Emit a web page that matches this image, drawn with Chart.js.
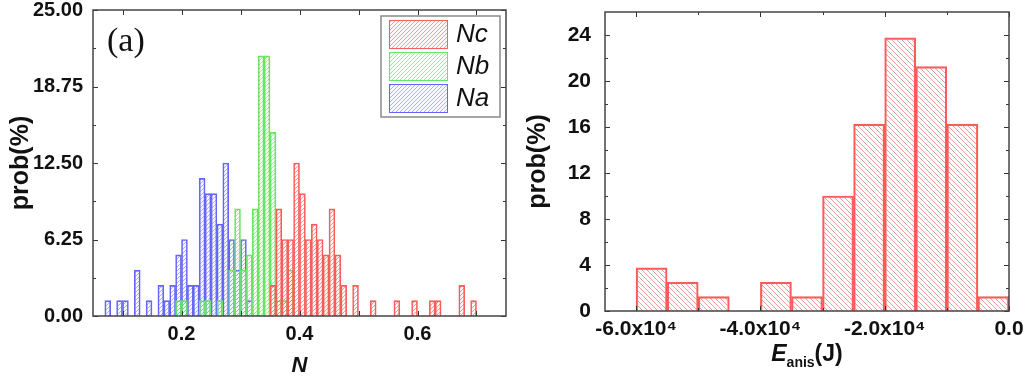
<!DOCTYPE html>
<html><head><meta charset="utf-8">
<script src="https://cdn.jsdelivr.net/npm/chart.js@4.4.1/dist/chart.umd.min.js"></script>
<style>
html,body{margin:0;padding:0;background:#fff;}
#wrap{position:relative;width:1024px;height:377px;overflow:hidden;}
.box{position:absolute;top:0;width:512px;height:377px;}
</style></head><body>
<div id="wrap">
<div class="box" style="left:0"><canvas id="c1" width="512" height="377"></canvas></div>
<div class="box" style="left:512px"><canvas id="c2" width="512" height="377"></canvas></div>
</div>
<script>
// ---------- Panel (a): histograms of N (bin width 0.01, values in %) ----------
const ncBins = [0.355,0.365,0.375,0.385,0.395,0.405,0.415,0.425,0.435,0.445,0.455,0.465,0.475,0.495,0.525,0.565,0.595,0.625,0.635,0.675,0.695];
const ncProb = [2.5,8.75,6.25,6.25,12.5,10,6.25,7.5,6.25,5,8.75,5,2.5,2.5,1.25,1.25,1.25,1.25,1.25,2.5,1.25];

const nbBins = [0.195,0.205,0.235,0.245,0.265,0.285,0.295,0.305,0.315,0.325,0.335,0.345,0.355,0.365,0.375,0.385];
const nbProb = [1.25,1.25,1.25,1.25,1.25,3.75,8.75,3.75,5,8.75,21.25,21.25,15,1.25,1.25,3.75];

const naBins = [0.075,0.095,0.105,0.125,0.145,0.165,0.175,0.185,0.195,0.205,0.215,0.225,0.235,0.245,0.255,0.265,0.275,0.285,0.295,0.305,0.315];
const naProb = [1.25,1.25,1.25,3.75,1.25,2.5,1.25,2.5,5,6.25,2.5,2.5,11.25,10,10,7.5,12.5,6.25,3.75,6.25,1.25];

const seriesLabels = ['Nc','Nb','Na'];

const leftXTicks  = [0.1,0.2,0.3,0.4,0.5,0.6,0.7];
const leftXLabels = ['','0.2','','0.4','','0.6',''];
const leftYTicks  = [0,6.25,12.5,18.75,25];
const leftYLabels = ['0.00','6.25','12.50','18.75','25.00'];
const leftYMinor  = [3.125,9.375,15.625,21.875];

// ---------- Panel (b): histogram of E_anis (bin width 5000 J, values in %) ----------
const eBins = [-57500,-52500,-47500,-37500,-32500,-27500,-22500,-17500,-12500,-7500,-2500];
const eProb = [3.75,2.5,1.25,2.5,1.25,10,16.25,23.75,21.25,16.25,1.25];

const rightXTicks  = [-60000,-40000,-20000,0];
const rightXLabels = ['-6.0x10\u2074','-4.0x10\u2074','-2.0x10\u2074','0.0'];
const rightXMinor  = [-50000,-30000,-10000];
const rightYTicks  = [0,4,8,12,16,20,24];
const rightYLabels = ['0','4','8','12','16','20','24'];
const rightYMinor  = [2,6,10,14,18,22];

const FONT = "'Liberation Sans', Arial, Helvetica, sans-serif";

function hatch(ctx, line, fill, dir, s, lw) {
  const c = document.createElement('canvas'); c.width = s; c.height = s;
  const g = c.getContext('2d');
  if (fill) { g.fillStyle = fill; g.fillRect(0, 0, s, s); }
  g.strokeStyle = line; g.lineWidth = lw || 1;
  g.beginPath();
  if (dir === '/') {
    g.moveTo(-1, s + 1); g.lineTo(s + 1, -1);
    g.moveTo(-1, 1); g.lineTo(1, -1);
    g.moveTo(s - 1, s + 1); g.lineTo(s + 1, s - 1);
  } else {
    g.moveTo(-1, -1); g.lineTo(s + 1, s + 1);
    g.moveTo(-1, s - 1); g.lineTo(1, s + 1);
    g.moveTo(s - 1, -1); g.lineTo(s + 1, 1);
  }
  g.stroke();
  return ctx.createPattern(c, 'repeat');
}

function framePlugin(cfg) {
  return {
    id: 'frame',
    afterDatasetsDraw(chart) {
      const {ctx, chartArea: a} = chart;
      const xs = chart.scales.x, ys = chart.scales.y;
      ctx.save();
      ctx.strokeStyle = '#333';
      ctx.lineWidth = 1;
      ctx.beginPath();
      const vx = (vals, len) => vals.forEach(v => {
        const p = Math.round(xs.getPixelForValue(v)) + 0.5;
        ctx.moveTo(p, a.bottom); ctx.lineTo(p, a.bottom - len);
        ctx.moveTo(p, a.top); ctx.lineTo(p, a.top + len);
      });
      const vy = (vals, len) => vals.forEach(v => {
        const p = Math.round(ys.getPixelForValue(v)) + 0.5;
        ctx.moveTo(a.left, p); ctx.lineTo(a.left + len, p);
        ctx.moveTo(a.right, p); ctx.lineTo(a.right - len, p);
      });
      vx(cfg.xMajor, 5); vx(cfg.xMinor, 3);
      vy(cfg.yMajor, 5); vy(cfg.yMinor, 3);
      ctx.stroke();
      ctx.lineWidth = 1.5;
      ctx.strokeStyle = '#444';
      ctx.strokeRect(a.left, a.top, a.right - a.left, a.bottom - a.top);
      ctx.restore();
    }
  };
}

// ---------------- Left chart ----------------
const c1 = document.getElementById('c1');
const g1 = c1.getContext('2d');
const styles1 = [
  {bg: hatch(g1, 'rgba(255,90,90,0.6)', 'rgba(255,0,0,0.03)', '/', 4), border: '#ff5c5c'},
  {bg: hatch(g1, 'rgba(80,225,80,0.55)', 'rgba(0,255,0,0.03)', '/', 4), border: '#66e866'},
  {bg: hatch(g1, 'rgba(105,105,255,0.5)', 'rgba(0,0,255,0.03)', '/', 4), border: '#6666ff'}
];
const binsList = [ncBins, nbBins, naBins];
const probList = [ncProb, nbProb, naProb];

const legendPlugin = {
  id: 'legendBox',
  afterDraw(chart) {
    const {ctx, chartArea: a} = chart;
    ctx.save();
    const bx = a.right - 125, by = a.top + 6, bw = 119, bh = 101;
    ctx.fillStyle = '#fff';
    ctx.fillRect(bx, by, bw, bh);
    ctx.strokeStyle = '#8a8a8a'; ctx.lineWidth = 1.5;
    ctx.strokeRect(bx, by, bw, bh);
    chart.data.datasets.forEach((ds, i) => {
      const ry = by + 4 + i * 32;
      ctx.fillStyle = ds.backgroundColor;
      ctx.fillRect(bx + 8, ry, 59, 29);
      ctx.strokeStyle = ds.borderColor; ctx.lineWidth = 1;
      ctx.strokeRect(bx + 8.5, ry + 0.5, 58, 28);
      ctx.fillStyle = '#111';
      ctx.font = "italic 26px " + FONT;
      ctx.textBaseline = 'middle';
      ctx.textAlign = 'left';
      ctx.fillText(ds.label, bx + 75, ry + 15);
    });
    // panel label
    ctx.font = "34px 'Liberation Serif', 'Times New Roman', serif";
    ctx.fillStyle = '#111';
    ctx.textBaseline = 'alphabetic';
    ctx.fillText('(a)', a.left + 14, a.top + 41);
    ctx.restore();
  }
};

new Chart(c1, {
  type: 'bar',
  data: {
    datasets: seriesLabels.map((lab, k) => ({
      label: lab,
      data: binsList[k].map((x, i) => ({x: x, y: probList[k][i]})),
      backgroundColor: styles1[k].bg,
      borderColor: styles1[k].border,
      borderWidth: 1,
      grouped: false,
      barPercentage: 1,
      categoryPercentage: 1
    }))
  },
  options: {
    responsive: false, animation: false, devicePixelRatio: 1,
    layout: {padding: {top: 10, right: 6, left: 0, bottom: 0}},
    plugins: {legend: {display: false}, tooltip: {enabled: false}},
    scales: {
      x: {
        type: 'linear', min: 0.05, max: 0.75, offset: false,
        grid: {display: false, drawTicks: false}, border: {display: false},
        afterBuildTicks: s => { s.ticks = leftXTicks.map(v => ({value: v})); },
        ticks: {autoSkip: false, maxRotation: 0, padding: 6, color: '#111',
          font: {family: FONT, size: 20, weight: 'bold'},
          callback: (v, i) => leftXLabels[i]},
        title: {display: true, text: 'N', color: '#111',
          font: {family: FONT, size: 22, weight: 'bold', style: 'italic', lineHeight: 1},
          padding: {top: 0, bottom: 0}},
        afterFit: s => { s.height = 61; s.paddingLeft = 0; s.paddingRight = 0; }
      },
      y: {
        min: 0, max: 25,
        grid: {display: false, drawTicks: false}, border: {display: false},
        afterBuildTicks: s => { s.ticks = leftYTicks.map(v => ({value: v})); },
        ticks: {autoSkip: false, padding: 10, color: '#111',
          font: {family: FONT, size: 20, weight: 'bold'},
          callback: (v, i) => leftYLabels[i]},
        title: {display: true, text: 'prob(%)', color: '#111',
          font: {family: FONT, size: 25, weight: 'bold', lineHeight: 1},
          padding: {top: 9, bottom: 0}},
        afterFit: s => { s.width = 93; s.paddingTop = 0; s.paddingBottom = 0; }
      }
    }
  },
  plugins: [framePlugin({xMajor: leftXTicks, xMinor: [], yMajor: leftYTicks, yMinor: leftYMinor}), legendPlugin]
});

// ---------------- Right chart ----------------
const c2 = document.getElementById('c2');
const g2 = c2.getContext('2d');

const eTitlePlugin = {
  id: 'eTitle',
  afterDraw(chart) {
    const {ctx, chartArea: a} = chart;
    ctx.save();
    ctx.fillStyle = '#111';
    ctx.textBaseline = 'alphabetic';
    ctx.textAlign = 'left';
    const f1 = "italic bold 23px " + FONT, f2 = "bold 14px " + FONT, f3 = "bold 23px " + FONT;
    ctx.font = f1; const w1 = ctx.measureText('E').width;
    ctx.font = f2; const w2 = ctx.measureText('anis').width;
    ctx.font = f3; const w3 = ctx.measureText('(J)').width;
    let x = (a.left + a.right) / 2 - (w1 + w2 + w3) / 2;
    const base = a.bottom + 50;
    ctx.font = f1; ctx.fillText('E', x, base); x += w1;
    ctx.font = f2; ctx.fillText('anis', x, base + 6); x += w2;
    ctx.font = f3; ctx.fillText('(J)', x, base);
    ctx.restore();
  }
};

new Chart(c2, {
  type: 'bar',
  data: {
    datasets: [{
      label: 'E_anis',
      data: eBins.map((x, i) => ({x: x, y: eProb[i]})),
      backgroundColor: hatch(g2, 'rgba(240,120,120,0.75)', null, '\\', 5),
      borderColor: '#ff5a5a',
      borderWidth: 1.5,
      grouped: false,
      barPercentage: 1,
      categoryPercentage: 1
    }]
  },
  options: {
    responsive: false, animation: false, devicePixelRatio: 1,
    layout: {padding: {top: 12, right: 15, left: 0, bottom: 0}},
    plugins: {legend: {display: false}, tooltip: {enabled: false}},
    scales: {
      x: {
        type: 'linear', min: -65000, max: 0, offset: false,
        grid: {display: false, drawTicks: false}, border: {display: false},
        afterBuildTicks: s => { s.ticks = rightXTicks.map(v => ({value: v})); },
        ticks: {autoSkip: false, maxRotation: 0, padding: 6, color: '#111',
          font: {family: FONT, size: 21, weight: 'bold'},
          callback: (v, i) => rightXLabels[i]},
        title: {display: false},
        afterFit: s => { s.height = 66; s.paddingLeft = 0; s.paddingRight = 0; }
      },
      y: {
        min: 0, max: 26,
        grid: {display: false, drawTicks: false}, border: {display: false},
        afterBuildTicks: s => { s.ticks = rightYTicks.map(v => ({value: v})); },
        ticks: {autoSkip: false, padding: 14, color: '#111',
          font: {family: FONT, size: 21, weight: 'bold'},
          callback: (v, i) => rightYLabels[i]},
        title: {display: true, text: 'prob(%)', color: '#111',
          font: {family: FONT, size: 25, weight: 'bold', lineHeight: 1},
          padding: {top: 14, bottom: 0}},
        afterFit: s => { s.width = 93; s.paddingTop = 0; s.paddingBottom = 0; }
      }
    }
  },
  plugins: [framePlugin({xMajor: rightXTicks, xMinor: rightXMinor, yMajor: rightYTicks, yMinor: rightYMinor}), eTitlePlugin]
});
</script>
</body></html>
